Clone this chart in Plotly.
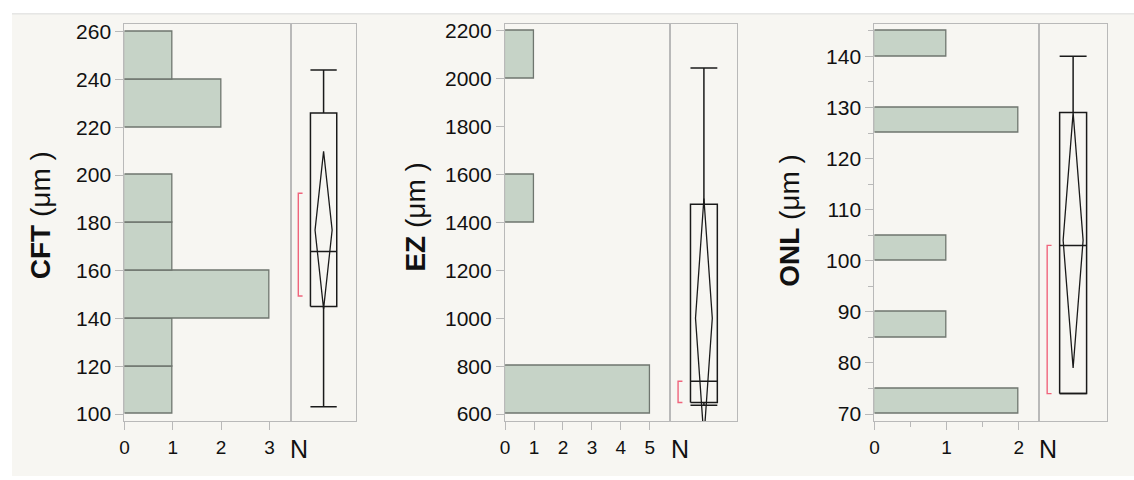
import plotly.graph_objects as go

# ---- data ----------------------------------------------------------------
# Histogram bins (lower edges), bin widths and counts
cft_bins = [100, 120, 140, 160, 180, 200, 220, 240]
cft_counts = [1, 1, 3, 1, 1, 0, 2, 1]
cft_width = 20

ez_bins = [600, 800, 1000, 1200, 1400, 1600, 1800, 2000]
ez_counts = [5, 0, 0, 0, 1, 0, 0, 1]
ez_width = 200

onl_bins = [70, 75, 80, 85, 90, 95, 100, 105, 110, 115, 120, 125, 130, 135, 140]
onl_counts = [2, 0, 0, 1, 0, 0, 1, 0, 0, 0, 0, 2, 0, 0, 1]
onl_width = 5

# Outlier box plot summaries: [min, q1, median, q3, max]
cft_box = [103, 145, 168, 226, 244]
ez_box = [637, 648, 737, 1476, 2045]
onl_box = [74, 74, 103, 129, 140]

# Means diamonds: [lower 95% CI, mean, upper 95% CI]
cft_mean = [144, 177, 210]
ez_mean = [500, 1000, 1500]
onl_mean = [79, 104, 129]

# Shortest half: [low, high]
cft_short = [149.4, 192.4]
ez_short = [648, 737]
onl_short = [74, 103]

# Axis ticks
cft_yticks = [100, 120, 140, 160, 180, 200, 220, 240, 260]
ez_yticks = [600, 800, 1000, 1200, 1400, 1600, 1800, 2000, 2200]
onl_yticks = [70, 80, 90, 100, 110, 120, 130, 140]
cft_xticks = [0, 1, 2, 3]
ez_xticks = [0, 1, 2, 3, 4, 5]
onl_xticks = [0, 1, 2]

titles = ["<b>CFT</b> (μm )", "<b>EZ</b> (μm )", "<b>ONL</b> (μm )"]

# ---- styling --------------------------------------------------------------
W, H = 1134, 480
FONT = "Liberation Sans, Arial, Helvetica, sans-serif"
FRAME = "#b9b9b9"
BAR_FILL = "#c6d3c7"
BAR_LINE = "#6f766f"
INK = "#1a1a1a"
RED = "#f0647c"

panels = [
    dict(bins=cft_bins, counts=cft_counts, width=cft_width, box=cft_box,
         mean=cft_mean, short=cft_short, yticks=cft_yticks, xticks=cft_xticks,
         yrange=[97.1, 263.4], xrange=[0, 3.44], hist_px=(120, 287),
         box_px=(287, 353), title_x=36, title_y=215, n_x=295, dw=0.13,
         yminor=None, xminor=None),
    dict(bins=ez_bins, counts=ez_counts, width=ez_width, box=ez_box,
         mean=ez_mean, short=ez_short, yticks=ez_yticks, xticks=ez_xticks,
         yrange=[571.3, 2230], xrange=[0, 5.71], hist_px=(502.3, 668.3),
         box_px=(668.3, 735.7), title_x=412, title_y=217, n_x=677.7, dw=0.125,
         yminor=None, xminor=None),
    dict(bins=onl_bins, counts=onl_counts, width=onl_width, box=onl_box,
         mean=onl_mean, short=onl_short, yticks=onl_yticks, xticks=onl_xticks,
         yrange=[68.65, 146.4], xrange=[0, 2.286], hist_px=(873.3, 1039),
         box_px=(1039, 1106.7), title_x=788, title_y=220, n_x=1047.3, dw=0.148,
         yminor=5, xminor=0.5),
]

TOP_PX, BOT_PX = 20, 424
ydom = [1 - BOT_PX / H, 1 - TOP_PX / H]

fig = go.Figure()
layout = {}
annotations = []

for i, p in enumerate(panels):
    hx = "x" if i == 0 else f"x{2 * i + 1}"
    hy = "y" if i == 0 else f"y{2 * i + 1}"
    bx = f"x{2 * i + 2}"
    by = f"y{2 * i + 2}"
    hxk = "xaxis" if i == 0 else f"xaxis{2 * i + 1}"
    hyk = "yaxis" if i == 0 else f"yaxis{2 * i + 1}"
    bxk = f"xaxis{2 * i + 2}"
    byk = f"yaxis{2 * i + 2}"

    # histogram bars (horizontal)
    ys, xs = [], []
    for lo, c in zip(p["bins"], p["counts"]):
        if c > 0:
            ys.append(lo + p["width"] / 2)
            xs.append(c)
    fig.add_trace(go.Bar(
        x=xs, y=ys, orientation="h", width=p["width"],
        marker=dict(color=BAR_FILL, line=dict(color=BAR_LINE, width=1.3)),
        xaxis=hx, yaxis=hy, showlegend=False, hoverinfo="skip"))

    # box plot drawn as line segments
    mn, q1, med, q3, mx = p["box"]
    cx, bw = 0.5, 0.2
    box_x = [cx - bw, cx + bw, cx + bw, cx - bw, cx - bw, None,
             cx - bw, cx + bw, None,
             cx, cx, None, cx, cx, None,
             cx - bw, cx + bw, None, cx - bw, cx + bw]
    box_y = [q1, q1, q3, q3, q1, None,
             med, med, None,
             q3, mx, None, q1, mn, None,
             mx, mx, None, mn, mn]
    fig.add_trace(go.Scatter(
        x=box_x, y=box_y, mode="lines", line=dict(color=INK, width=1.5),
        xaxis=bx, yaxis=by, showlegend=False, hoverinfo="skip"))

    # means diamond
    lo, m, hi = p["mean"]
    dw = p["dw"]
    fig.add_trace(go.Scatter(
        x=[cx, cx + dw, cx, cx - dw, cx], y=[lo, m, hi, m, lo],
        mode="lines", line=dict(color=INK, width=1.3),
        xaxis=bx, yaxis=by, showlegend=False, hoverinfo="skip"))

    # shortest-half bracket
    s0, s1 = p["short"]
    bl, br = 0.115, 0.18
    fig.add_trace(go.Scatter(
        x=[br, bl, bl, br], y=[s1, s1, s0, s0],
        mode="lines", line=dict(color=RED, width=1.4),
        xaxis=bx, yaxis=by, showlegend=False, hoverinfo="skip"))

    h0, h1 = p["hist_px"]
    b0, b1 = p["box_px"]
    tickfont_y = dict(family=FONT, size=21, color="#111")
    tickfont_x = dict(family=FONT, size=19, color="#111")

    xa = dict(domain=[h0 / W, h1 / W], anchor=hy, range=p["xrange"],
              tickvals=p["xticks"], ticks="outside", ticklen=8, tickwidth=1.3,
              tickcolor=FRAME, showline=True, linecolor=FRAME, linewidth=1.3,
              mirror=True, showgrid=False, zeroline=False, tickfont=tickfont_x,
              ticklabelstandoff=1, fixedrange=True)
    if p["xminor"]:
        xa["minor"] = dict(dtick=p["xminor"], ticks="outside", ticklen=5,
                           tickcolor=FRAME, tickwidth=1.3, showgrid=False)
    ya = dict(domain=ydom, anchor=hx, range=p["yrange"], tickvals=p["yticks"],
              ticks="outside", ticklen=8, tickwidth=1.3, tickcolor=FRAME,
              showline=True, linecolor=FRAME, linewidth=1.3, mirror=True,
              showgrid=False, zeroline=False, tickfont=tickfont_y,
              fixedrange=True)
    if p["yminor"]:
        ya["minor"] = dict(dtick=p["yminor"], ticks="outside", ticklen=5,
                           tickcolor=FRAME, tickwidth=1.3, showgrid=False)
    layout[hxk] = xa
    layout[hyk] = ya
    layout[bxk] = dict(domain=[b0 / W, b1 / W], anchor=by, range=[0, 1],
                       showline=True, linecolor=FRAME, linewidth=1.3,
                       mirror=True, showticklabels=False, ticks="",
                       showgrid=False, zeroline=False, fixedrange=True)
    layout[byk] = dict(domain=ydom, anchor=bx, range=p["yrange"],
                       showline=True, linecolor=FRAME, linewidth=1.3,
                       mirror=True, showticklabels=False, ticks="",
                       showgrid=False, zeroline=False, fixedrange=True)

    annotations.append(dict(
        text=titles[i], x=p["title_x"] / W, y=1 - p["title_y"] / H,
        xref="paper", yref="paper", xanchor="center", yanchor="middle",
        textangle=-90, showarrow=False,
        font=dict(family=FONT, size=28, color="#111")))
    annotations.append(dict(
        text="N", x=p["n_x"] / W, y=1 - 453 / H, xref="paper", yref="paper",
        xanchor="center", yanchor="middle", showarrow=False,
        font=dict(family=FONT, size=25, color="#111")))

shapes = [
    dict(type="rect", xref="paper", yref="paper", x0=7 / W, x1=1,
         y0=0, y1=1 - 10 / H, fillcolor="#f7f6f2", line=dict(width=0),
         layer="below"),
    dict(type="line", xref="paper", yref="paper", x0=7 / W, x1=1,
         y0=1 - 10 / H, y1=1 - 10 / H, line=dict(color="#dadada", width=1),
         layer="below"),
]

fig.update_layout(
    width=W, height=H, autosize=False,
    margin=dict(l=0, r=0, t=0, b=0, pad=0),
    paper_bgcolor="white", plot_bgcolor="white",
    bargap=0, annotations=annotations, shapes=shapes,
    font=dict(family=FONT, color="#111"),
    **layout,
)

fig.write_html("out.html", config={"displayModeBar": False})
